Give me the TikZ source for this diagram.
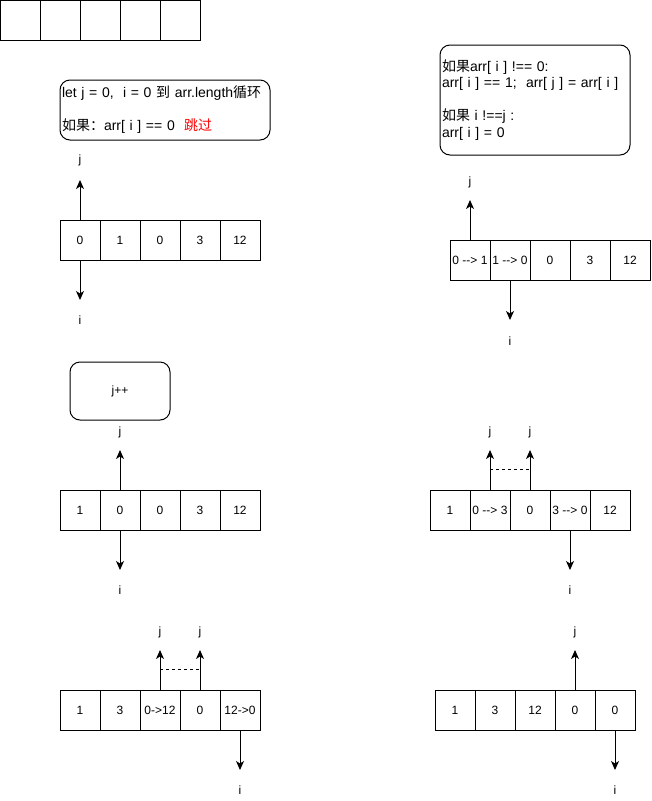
\documentclass[tikz,border=0pt]{standalone}
\usepackage{fontspec}
\setmainfont{Liberation Sans}[Ligatures=TeXOff]
\newfontfamily\cjk{Noto Sans CJK SC}
\usepackage{tikz}
\usetikzlibrary{arrows.meta,calc}

\begin{document}
\begin{tikzpicture}[x=1pt,y=-1pt,line width=1pt,
    cell/.style={draw,minimum width=40pt,minimum height=40pt,inner sep=0pt,font=\fontsize{12}{14}\selectfont},
    codebox/.style={draw,rounded corners=10pt,align=left,inner sep=2pt,font=\fontsize{14}{16.5}\selectfont},
    ptr/.style={-{Stealth[length=9pt,width=8pt,inset=2.5pt]}},
    lab/.style={font=\fontsize{12}{14}\selectfont}]
   \useasboundingbox (0,0) rectangle (651,801);

   % empty array
   \foreach \k in {1,...,5}
     \draw (-19.5+40*\k,20.5) node[cell] (e\k) {};

   % step 1
   \draw (165,110) node[codebox,text width=206pt,minimum height=60pt] (loop)
     {let j = 0,\ \ i = 0 {\cjk 到} arr.length{\cjk 循环}\\\mbox{}\\{\cjk 如果：}arr[ i ] == 0\ \ {\cjk\textcolor{red}{跳过}}};
   \foreach \v [count=\k] in {0,1,0,3,12}
     \draw (40+40*\k,240) node[cell] (a\k) {\v};
   \coordinate (atj) at (80,180);
   \coordinate (ati) at (80,300);
   \draw (80,160) node[lab] (aj) {j};
   \draw (80,320) node[lab] (ai) {i};
   \path[ptr] (a1.north) edge (atj);
   \path[ptr] (a1.south) edge (ati);

   % step 2
   \draw (535,100) node[codebox,text width=186pt,minimum height=110pt] (swap)
     {{\cjk 如果}arr[ i ] !== 0:\\arr[ i ] == 1;\ \ arr[ j ] = arr[ i ]\\\mbox{}\\{\cjk 如果} i !==j :\\arr[ i ] = 0};
   \foreach \v [count=\k] in {{0 --> 1},{1 --> 0},0,3,12}
     \draw (430+40*\k,260) node[cell] (b\k) {\v};
   \coordinate (btj) at (470,200);
   \coordinate (bti) at (510,320);
   \draw (470,182) node[lab] (bj) {j};
   \draw (510,341) node[lab] (bi) {i};
   \path[ptr] (b1.north) edge (btj);
   \path[ptr] (b2.south) edge (bti);

   % step 3
   \draw (120,391) node[draw,rounded corners=10pt,minimum width=100pt,minimum height=58pt,lab] (inc) {j++};
   \foreach \v [count=\k] in {1,0,0,3,12}
     \draw (40+40*\k,510) node[cell] (c\k) {\v};
   \coordinate (ctj) at (120,450);
   \coordinate (cti) at (120,570);
   \draw (120,432) node[lab] (cj) {j};
   \draw (120,590) node[lab] (ci) {i};
   \path[ptr] (c2.north) edge (ctj);
   \path[ptr] (c2.south) edge (cti);

   % step 4
   \foreach \v [count=\k] in {1,{0 --> 3},0,{3 --> 0},12}
     \draw (410+40*\k,510) node[cell] (d\k) {\v};
   \coordinate (dtj1) at (490,450);
   \coordinate (dtj2) at (530,450);
   \coordinate (dti) at (570,570);
   \draw (490,432) node[lab] (dj1) {j};
   \draw (530,432) node[lab] (dj2) {j};
   \draw (570,590) node[lab] (di) {i};
   \path[ptr] (d2.north) edge (dtj1);
   \path[ptr] (d3.north) edge (dtj2);
   \path[ptr] (d4.south) edge (dti);
   \draw[line width=0.8pt,dash pattern=on 3pt off 3pt] ($(d2.north)!.5!(dtj1)$) -- ($(d3.north)!.5!(dtj2)$);

   % step 5
   \foreach \v [count=\k] in {1,3,{0->12},0,{12->0}}
     \draw (40+40*\k,710) node[cell] (f\k) {\v};
   \coordinate (ftj1) at (160,650);
   \coordinate (ftj2) at (200,650);
   \coordinate (fti) at (240,770);
   \draw (160,632) node[lab] (fj1) {j};
   \draw (200,632) node[lab] (fj2) {j};
   \draw (240,790) node[lab] (fi) {i};
   \path[ptr] (f3.north) edge (ftj1);
   \path[ptr] (f4.north) edge (ftj2);
   \path[ptr] (f5.south) edge (fti);
   \draw[line width=0.8pt,dash pattern=on 3pt off 3pt] ($(f3.north)!.5!(ftj1)$) -- ($(f4.north)!.5!(ftj2)$);

   % result
   \foreach \v [count=\k] in {1,3,12,0,0}
     \draw (415+40*\k,710) node[cell] (g\k) {\v};
   \coordinate (gtj) at (575,650);
   \coordinate (gti) at (615,770);
   \draw (575,632) node[lab] (gj) {j};
   \draw (615,790) node[lab] (gi) {i};
   \path[ptr] (g4.north) edge (gtj);
   \path[ptr] (g5.south) edge (gti);
\end{tikzpicture}
\end{document}
